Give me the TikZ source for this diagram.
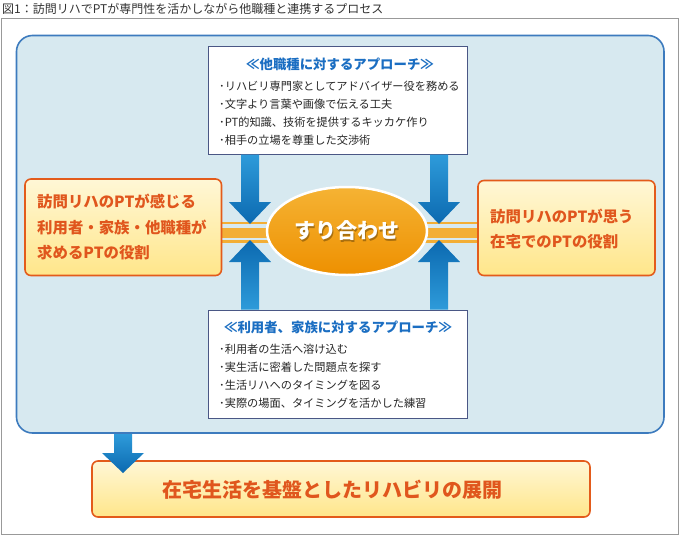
\documentclass[tikz,border=0pt]{standalone}
\usepackage{fontspec}
\setmainfont{Noto Sans CJK JP}
\usetikzlibrary{shadings}
\definecolor{panelfill}{HTML}{D7E9F0}
\definecolor{panelline}{HTML}{3D7BBE}
\definecolor{boxline}{HTML}{4A5785}
\definecolor{headblue}{HTML}{1B6EC2}
\definecolor{orline}{HTML}{E35B1B}
\definecolor{ortext}{HTML}{E0561D}
\definecolor{orfilltop}{HTML}{FFF7D6}
\definecolor{orfillbot}{HTML}{FFE68A}
\definecolor{arrtop}{HTML}{2E9BDA}
\definecolor{arrbot}{HTML}{0B69B0}
\definecolor{bandor}{HTML}{F3AE35}
\definecolor{elltop}{HTML}{F5B334}
\definecolor{ellbot}{HTML}{EE9000}
\tikzset{
  panel/.style={fill=panelfill,draw=panelline,line width=1.6pt,rounded corners=16pt},
  listbox/.style={fill=white,draw=boxline,line width=0.9pt},
  orbox/.style={draw=orline,line width=1.6pt,rounded corners=6pt,top color=orfilltop,bottom color=orfillbot},
  headtxt/.style={font=\fontsize{13.4}{15}\selectfont\bfseries,text=headblue,inner sep=0pt},
  listtxt/.style={font=\fontsize{11.2}{13}\selectfont,text=black!85,inner sep=0pt,anchor=west},
  ortxt/.style={font=\fontsize{15.4}{25.5}\selectfont\bfseries,text=ortext,inner sep=0pt,align=left},
  arrdown/.style={top color=arrtop,bottom color=arrbot},
  arrup/.style={top color=arrbot,bottom color=arrtop},
}
% block arrow: x centre, y start, y of head base, y of tip
\newcommand\blockarrow[5]{%
  \path[#5] (#1-9,#2) -- (#1+9,#2) -- (#1+9,#3) -- (#1+21,#3) -- (#1,#4) -- (#1-21,#3) -- (#1-9,#3) -- cycle;}
\begin{document}
\begin{tikzpicture}[x=1pt,y=-1pt]
\useasboundingbox (0,0) rectangle (680,536);
\fill[white] (0,0) rectangle (680,536);
% title and frame
\node[anchor=west,inner sep=0pt,font=\fontsize{12}{14}\selectfont,text=black!80] (title) at (2,8.5)
  {図1：訪問リハでPTが専門性を活かしながら他職種と連携するプロセス};
\draw[gray!80,line width=0.8pt] (1.5,18.5) rectangle (678.5,534.5);
% main panel
\draw[panel] (16.5,35.5) rectangle (664,433);
% orange band
\fill[bandor] (222,221.5) rectangle (478,224);
\fill[bandor] (222,227.5) rectangle (478,237.5);
\fill[bandor] (222,239.7) rectangle (478,242.5);
% top and bottom list boxes
\node[listbox,minimum width=259pt,minimum height=108pt,anchor=north west] (topbox) at (208,45.5) {};
\node[listbox,minimum width=259pt,minimum height=108pt,anchor=north west] (botbox) at (208,310) {};
\node[headtxt] (toph) at (340,64) {≪他職種に対するアプローチ≫};
\node[listtxt] (t1) at (219,86.5) {･リハビリ専門家としてアドバイザー役を務める};
\node[listtxt] (t2) at (219,104) {･文字より言葉や画像で伝える工夫};
\node[listtxt] (t3) at (219,122) {･PT的知識、技術を提供するキッカケ作り};
\node[listtxt] (t4) at (219,140) {･相手の立場を尊重した交渉術};
\node[headtxt] (both) at (338,327) {≪利用者、家族に対するアプローチ≫};
\node[listtxt] (b1) at (219,349) {･利用者の生活へ溶け込む};
\node[listtxt] (b2) at (219,367) {･実生活に密着した問題点を探す};
\node[listtxt] (b3) at (219,385) {･生活リハへのタイミングを図る};
\node[listtxt] (b4) at (219,403) {･実際の場面、タイミングを活かした練習};
% vertical arrows
\blockarrow{250}{154.5}{202}{224}{arrdown}
\blockarrow{439}{154.5}{202}{224}{arrdown}
\blockarrow{250}{309.5}{262}{240}{arrup}
\blockarrow{439}{309.5}{262}{240}{arrup}
% ellipse
\path[draw=white,line width=2.5pt,top color=elltop,bottom color=ellbot] (347,231) ellipse [x radius=80,y radius=44];
\node[font=\fontsize{21}{24}\selectfont\bfseries,text=black,opacity=0.3,inner sep=0pt] at (348.3,232.6) {すり合わせ};
\node[font=\fontsize{21}{24}\selectfont\bfseries,text=white,inner sep=0pt] (match) at (347,231) {すり合わせ};
% side boxes
\draw[orbox] (25,179) rectangle (221.5,275.5);
\node[ortxt,anchor=west] (lefttxt) at (37,227.5) {訪問リハのPTが感じる\\利用者・家族・他職種が\\求めるPTの役割};
\draw[orbox] (478,180.5) rectangle (655,275.5);
\node[ortxt,anchor=west] (righttxt) at (490,229) {訪問リハのPTが思う\\在宅でのPTの役割};
% bottom arrow and box
\draw[orbox] (92,461) rectangle (590,517);
\node[font=\fontsize{20}{22}\selectfont\bfseries,text=ortext,inner sep=0pt] (result) at (332,490) {在宅生活を基盤としたリハビリの展開};
\blockarrow{123}{434}{453}{473}{arrdown}
\end{tikzpicture}
\end{document}
